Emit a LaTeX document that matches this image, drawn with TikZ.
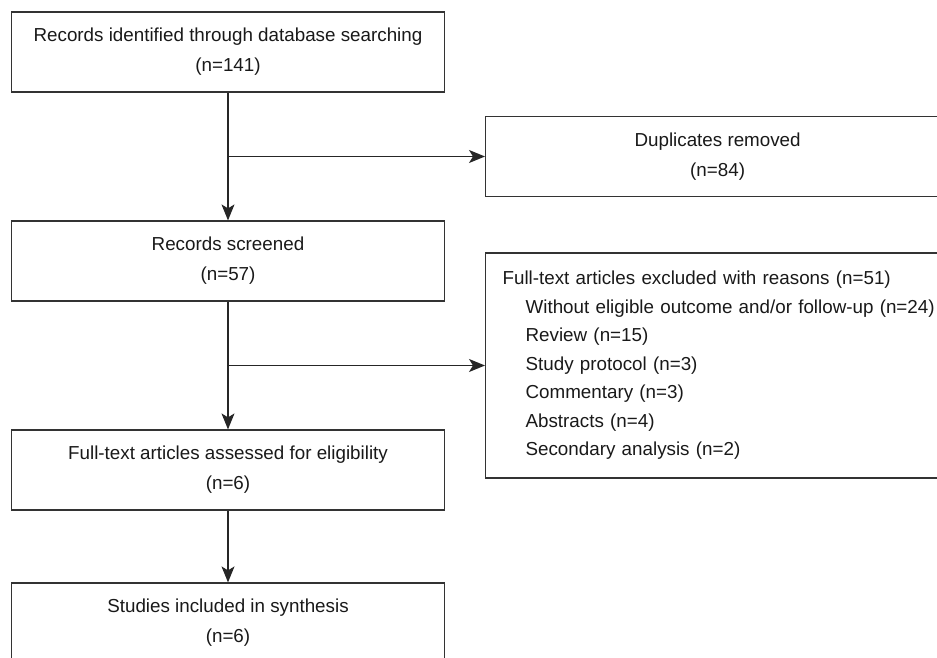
\documentclass[tikz,border=0pt]{standalone}
\usepackage{fontspec}
\setmainfont{Liberation Sans}
\usetikzlibrary{positioning,calc,arrows.meta}

\begin{document}
\begin{tikzpicture}[x=1pt, y=1pt, line width=1.2pt,
        box/.style = {draw=black!80, rectangle, minimum width=433pt, minimum height=80pt, align=center, text=black!90, font=\fontsize{18.8pt}{30pt}\selectfont},
        side/.style = {box, minimum width=464pt},
        flow/.style = {draw=black!85, -{Stealth[length=16pt, width=13pt, inset=4pt]}}]
    \clip (0,0) rectangle (937,-658);
    \node[box] (rec) at (228,-52) {Records identified through database searching\\(n=141)};
    \node[box] (scr) [below of = rec, node distance=209pt] {Records screened\\(n=57)};
    \node[box] (elig) [below of = scr, node distance=209pt] {Full-text articles assessed for eligibility\\(n=6)};
    \node[box] (incl) [below of = elig, node distance=153pt] {Studies included in synthesis\\(n=6)};
    \coordinate (j1) at ($(rec.south)!0.5!(scr.north)$);
    \coordinate (j2) at ($(scr.south)!0.5!(elig.north)$);
    \node[side] (dup) [right=257pt of j1] {Duplicates removed\\(n=84)};
    \node[side, minimum width=470pt, text width=436pt, inner xsep=17pt, minimum height=225pt, align=left, font=\fontsize{18.8pt}{28.5pt}\selectfont] (excl) [right=257pt of j2]
        {Full-text articles excluded with reasons (n=51)\\
        \hspace*{23pt}Without eligible outcome and/or follow-up (n=24)\\
        \hspace*{23pt}Review (n=15)\\
        \hspace*{23pt}Study protocol (n=3)\\
        \hspace*{23pt}Commentary (n=3)\\
        \hspace*{23pt}Abstracts (n=4)\\
        \hspace*{23pt}Secondary analysis (n=2)};
    \draw[flow] (rec) -- (scr);
    \draw[flow] (scr) -- (elig);
    \draw[flow] (elig) -- (incl);
    \draw[flow] (j1) -- (dup);
    \draw[flow] (j2) -- (excl);
\end{tikzpicture}
\end{document}
